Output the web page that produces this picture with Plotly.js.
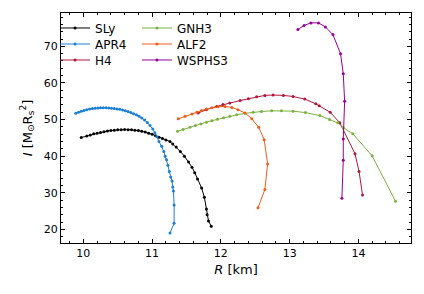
<!DOCTYPE html>
<html>
<head>
<meta charset="utf-8">
<script src="https://cdn.plot.ly/plotly-3.0.1.min.js"></script>
<style>html,body{margin:0;padding:0;background:#fff;}#chart{width:424px;height:294px;}</style>
</head>
<body>
<div id="chart"></div>
<script>
const names = ["SLy", "APR4", "H4", "GNH3", "ALF2", "WSPHS3"];
const colors = ["#000000", "#1a7fd4", "#b2183c", "#7bb241", "#ee5e1a", "#990099"];

const slyR = [9.97,10.05,10.1,10.15,10.2,10.25,10.3,10.35,10.4,10.45,10.5,10.55,10.6,10.65,10.7,10.75,10.8,10.85,10.9,10.95,11.0,11.05,11.1,11.15,11.2,11.26,11.3,11.35,11.41,11.47,11.53,11.58,11.62,11.66,11.72,11.76,11.79,11.80,11.82,11.86];
const slyI = [45.1,45.5,45.8,46.1,46.3,46.5,46.7,46.9,47.0,47.1,47.2,47.25,47.3,47.25,47.2,47.1,47.0,46.8,46.6,46.3,46.0,45.6,45.2,44.8,44.4,44.0,43.3,42.5,41.3,40.0,38.4,37.0,35.5,33.8,31.3,28.8,25.6,24.0,22.3,20.9];

const apr4R = [9.89,9.93,9.97,10.01,10.05,10.09,10.13,10.17,10.21,10.25,10.29,10.33,10.37,10.41,10.45,10.49,10.53,10.57,10.61,10.65,10.69,10.73,10.77,10.81,10.85,10.89,10.93,10.97,11.01,11.04,11.07,11.1,11.14,11.17,11.19,11.21,11.23,11.25,11.27,11.29,11.30,11.31,11.32,11.32,11.26];
const apr4I = [51.7,52.0,52.3,52.5,52.7,52.9,53.0,53.1,53.15,53.2,53.2,53.2,53.15,53.1,53.0,52.9,52.8,52.6,52.4,52.2,51.9,51.6,51.3,50.9,50.4,49.9,49.2,48.4,47.4,46.4,45.3,44.0,42.7,41.3,40.0,39.0,37.5,35.8,34.3,33.2,31.6,30.5,26.7,21.7,19.0];

const h4R = [11.67,11.79,11.94,12.03,12.13,12.28,12.40,12.52,12.64,12.76,12.91,13.05,13.22,13.38,13.43,13.59,13.73,13.95,14.01,14.06];
const h4I = [51.8,52.7,53.6,54.1,54.5,55.2,55.7,56.2,56.6,56.7,56.6,56.3,55.6,54.3,53.8,52.0,49.1,40.7,35.8,29.4];

const gnh3R = [11.37,11.45,11.55,11.63,11.71,11.79,11.87,11.95,12.04,12.13,12.23,12.35,12.47,12.59,12.74,12.88,13.05,13.23,13.44,13.58,13.70,13.78,13.92,14.20,14.54];
const gnh3I = [46.8,47.3,47.9,48.4,48.8,49.3,49.7,50.1,50.5,50.9,51.3,51.7,52.0,52.2,52.4,52.4,52.3,51.9,51.1,50.0,49.1,47.8,46.1,40.1,27.7];

const alf2R = [11.38,11.48,11.58,11.65,11.72,11.79,11.87,11.96,12.06,12.16,12.25,12.35,12.45,12.55,12.63,12.68,12.64,12.54];
const alf2I = [50.2,50.9,51.5,52.0,52.5,52.9,53.2,53.5,53.6,53.3,52.7,51.8,50.2,47.9,44.5,37.9,30.9,25.9];

const wsR = [13.12,13.21,13.31,13.42,13.52,13.63,13.74,13.78,13.80,13.78,13.78,13.76];
const wsI = [74.6,75.7,76.4,76.4,75.3,73.2,68.0,62.5,55.0,44.7,38.9,28.5];

const xs = [slyR, apr4R, h4R, gnh3R, alf2R, wsR];
const ys = [slyI, apr4I, h4I, gnh3I, alf2I, wsI];

const legendIds = ["legend", "legend2", "legend3", "legend4", "legend5", "legend6"];
const traces = names.map((n, i) => ({
  x: xs[i], y: ys[i], name: n, type: "scatter", mode: "lines+markers",
  line: {color: colors[i], width: 1},
  marker: {color: colors[i], size: 3},
  legend: legendIds[i], showlegend: true
}));

const font = {family: "DejaVu Sans, sans-serif", size: 11, color: "#000"};
const legFont = {family: "DejaVu Sans, sans-serif", size: 12, color: "#000"};
const titleFont = {family: "DejaVu Sans, sans-serif", size: 13, color: "#000"};
const rowY = [0.9348, 0.8652, 0.7957];
const colX = [-0.017, 0.217];
const layout = {
  width: 424, height: 294,
  margin: {l: 61, r: 13, t: 13, b: 51},
  paper_bgcolor: "#fff", plot_bgcolor: "#fff",
  font: font,
  showlegend: true,
  xaxis: {
    range: [9.675, 14.765], dtick: 1, tick0: 0,
    ticks: "inside", ticklen: 4, tickwidth: 1, tickcolor: "#000",
    showline: true, linecolor: "#000", linewidth: 1, mirror: "allticks",
    showgrid: false, zeroline: false,
    minor: {dtick: 0.2, ticks: "inside", ticklen: 2, tickcolor: "#000", showgrid: false},
    tickfont: font,
    title: {text: "<i>R</i> [km]", font: titleFont, standoff: 5}
  },
  yaxis: {
    range: [16.3, 79.1], dtick: 10, tick0: 0,
    ticks: "inside", ticklen: 4, tickwidth: 1, tickcolor: "#000",
    showline: true, linecolor: "#000", linewidth: 1, mirror: "allticks",
    showgrid: false, zeroline: false,
    minor: {dtick: 2, ticks: "inside", ticklen: 2, tickcolor: "#000", showgrid: false},
    tickfont: font,
    title: {text: "<i>I</i> [M<sub>⊙</sub>R<sub>s</sub><sup>2</sup>]", font: titleFont, standoff: 8}
  }
};
legendIds.forEach((id, i) => {
  layout[id] = {
    x: colX[Math.floor(i / 3)], y: rowY[i % 3], xanchor: "left", yanchor: "middle",
    bgcolor: "rgba(0,0,0,0)", borderwidth: 0, font: legFont
  };
});

Plotly.newPlot("chart", traces, layout, {displayModeBar: false, staticPlot: true});
</script>
</body>
</html>
